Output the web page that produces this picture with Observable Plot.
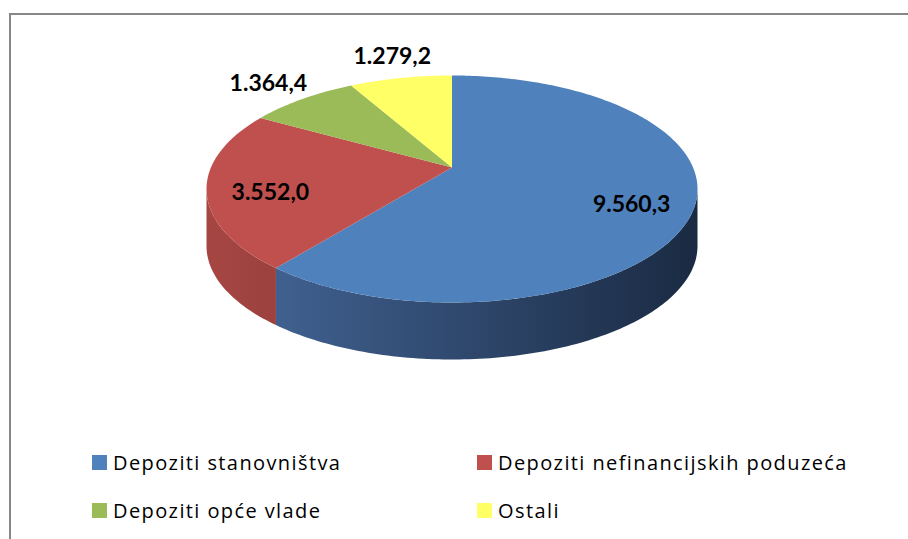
<!DOCTYPE html>
<html><head><meta charset="utf-8">
<script src="https://cdn.jsdelivr.net/npm/d3@7"></script>
<script src="https://cdn.jsdelivr.net/npm/@observablehq/plot@0.6"></script>
<style>
html,body{margin:0;padding:0;background:#fff;width:908px;height:539px;overflow:hidden;}
#frame{position:absolute;left:9px;top:13px;width:1000px;height:1000px;border-left:2px solid #878787;border-top:2px solid #878787;}
#chart{position:absolute;left:0;top:0;}
#legend{position:absolute;left:92px;top:451px;display:grid;grid-template-columns:385px auto;row-gap:26px;font-family:"Open Sans", Lato, sans-serif;font-size:20px;letter-spacing:1.4px;color:#000;}
.item{display:flex;align-items:center;height:22px;white-space:nowrap;}
.sw{width:15px;height:15px;margin-right:6px;flex:none;}
</style></head><body>
<div id="frame"></div><div id="chart"></div><div id="legend"></div>
<script>
const categories = ["Depoziti stanovništva", "Depoziti nefinancijskih poduzeća", "Depoziti opće vlade", "Ostali"];
const values = [9560.3, 3552.0, 1364.4, 1279.2];
const topColors = ["#4f81bd", "#c0504d", "#9bbb59", "#ffff66"];
const sideLight = ["#46699c", "#a64643", "#7d9a45", "#d4d44f"];
const sideDark = ["#1a2a42", "#5e2524", "#4a5c28", "#80802f"];

const fmt = d3.formatLocale({decimal: ",", thousands: ".", grouping: [3], currency: ["", ""]}).format(",.1f");

const W = 908, H = 440;
const cx = 451.5, cy = 188.5, rx = 245.5, ry = 113.5, depth = 57, tilt = -0.19;
const s = Math.sqrt(1 - tilt * tilt);
function proj(theta, r = 1) {
  const u = r * Math.sin(theta), v = -r * Math.cos(theta);
  const d = 1 + tilt * v;
  return [u * s / d, (v + tilt) / d];
}
function arc(a0, a1) {
  const n = Math.max(2, Math.ceil((a1 - a0) / (Math.PI / 180)));
  return d3.range(n + 1).map(k => proj(a0 + (a1 - a0) * k / n));
}
const total = d3.sum(values);
let acc = 0;
const slices = values.map((v, i) => {
  const a0 = acc / total * 2 * Math.PI; acc += v;
  const a1 = acc / total * 2 * Math.PI;
  return {i, v, a0, a1};
});
const apex = [0, tilt];
const dU = depth / ry;
const th1 = Math.acos(tilt), th2 = 2 * Math.PI - Math.acos(tilt);

const marks = [];
// side walls
for (const sl of slices) {
  const b0 = Math.max(sl.a0, th1), b1 = Math.min(sl.a1, th2);
  if (b1 <= b0) continue;
  const topPts = arc(b0, b1);
  const pts = topPts.concat(topPts.slice().reverse().map(([x, y]) => [x, y + dU]));
  marks.push(Plot.line(pts, {x: d => d[0], y: d => d[1], fill: `url(#side${sl.i})`, stroke: "none"}));
}
// top faces
for (const sl of slices) {
  const pts = [apex, ...arc(sl.a0, sl.a1), apex];
  marks.push(Plot.line(pts, {x: d => d[0], y: d => d[1], fill: topColors[sl.i], stroke: "none"}));
}
// labels
const labelData = slices.map(sl => {
  const mid = (sl.a0 + sl.a1) / 2;
  const P = proj(mid);
  const inside = sl.v / total > 0.15;
  const f = inside ? 0.74 : 1.26;
  return {
    x: apex[0] + f * (P[0] - apex[0]) + (inside ? 0 : 5 / rx),
    y: apex[1] + f * (P[1] - apex[1]) + (inside ? 9 / ry : 2 / ry),
    text: fmt(sl.v)
  };
});
marks.push(Plot.text(labelData, {x: "x", y: "y", text: "text", fontSize: 23, fontWeight: "bold", fontFamily: "Lato, sans-serif", fill: "#000"}));

const plot = Plot.plot({
  width: W, height: H, margin: 0,
  x: {domain: [-1, 1], range: [cx - rx, cx + rx], axis: null},
  y: {domain: [-1, 1], range: [cy - ry, cy + ry], axis: null},
  style: {background: "transparent", overflow: "visible"},
  marks
});

const NS = "http://www.w3.org/2000/svg";
const defs = document.createElementNS(NS, "defs");
slices.forEach(sl => {
  const g = document.createElementNS(NS, "linearGradient");
  g.setAttribute("id", `side${sl.i}`);
  g.setAttribute("gradientUnits", "userSpaceOnUse");
  g.setAttribute("x1", cx - rx); g.setAttribute("x2", cx + rx);
  g.setAttribute("y1", 0); g.setAttribute("y2", 0);
  [[0, sideLight[sl.i]], [1, sideDark[sl.i]]].forEach(([o, c]) => {
    const st = document.createElementNS(NS, "stop");
    st.setAttribute("offset", o); st.setAttribute("stop-color", c);
    g.appendChild(st);
  });
  defs.appendChild(g);
});
plot.insertBefore(defs, plot.firstChild);
document.getElementById("chart").appendChild(plot);

const legend = document.getElementById("legend");
categories.forEach((c, i) => {
  const it = document.createElement("div"); it.className = "item";
  const sw = document.createElement("span"); sw.className = "sw"; sw.style.background = topColors[i];
  const tx = document.createElement("span"); tx.textContent = c;
  it.appendChild(sw); it.appendChild(tx); legend.appendChild(it);
});
</script></body></html>
